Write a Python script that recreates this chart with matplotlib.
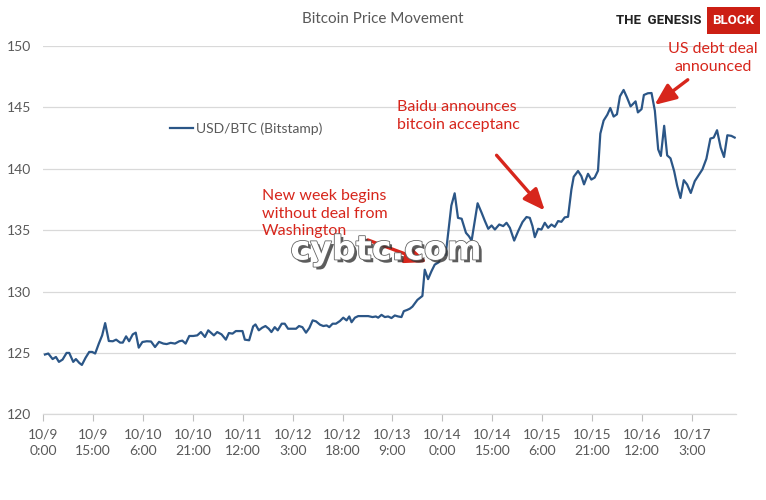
import matplotlib
matplotlib.use("Agg")
import matplotlib.pyplot as plt
import matplotlib.patheffects as pe
from matplotlib.patches import Rectangle

plt.rcParams['font.family'] = ['Lato', 'DejaVu Sans']

# ---- data: hours since 10/9 0:00, USD/BTC price (Bitstamp) ----
hours = [0.5, 1.5, 2.8, 3.8, 4.7, 5.8, 7.0, 7.8, 9.0, 9.8, 10.8, 11.6, 12.7, 13.8, 14.7,
         15.6, 16.7, 17.7, 18.6, 19.7, 20.9, 21.9, 23.1, 23.9, 24.9, 25.8, 26.9, 27.8, 28.7,
         29.8, 31.1, 32.4, 33.6, 34.8, 36.1, 37.1, 38.3, 39.6, 40.9, 41.8, 42.8, 43.9, 45.1,
         46.3, 47.4, 48.6, 49.6, 51.3, 52.3, 53.6, 54.9, 55.8, 56.9, 57.9, 59.1, 59.9, 60.6,
         61.9, 63.1, 63.8, 64.8, 65.8, 66.8, 67.8, 68.6, 69.6, 70.5, 71.7, 72.6, 73.6, 75.0,
         76.0, 76.9, 77.9, 79.0, 80.0, 81.0, 82.0, 83.2, 84.2, 85.2, 86.0, 87.0, 88.0, 89.2,
         90.2, 91.2, 92.0, 92.7, 93.7, 94.7, 96.2, 97.7, 99.0, 100.0, 100.7, 101.7, 102.7,
         103.7, 104.7, 105.7, 106.7, 107.7, 108.4, 109.4, 110.2, 111.0, 112.5, 114.0, 114.7,
         115.7, 116.7, 117.7, 118.9, 119.7, 121.0, 122.7, 123.7, 124.7, 125.8, 127.1, 128.0,
         128.8, 130.6, 131.8, 132.8, 133.8, 134.8, 135.8, 137.1, 138.3, 139.3, 140.3, 141.6,
         142.8, 144.1, 145.3, 146.3, 147.1, 147.8, 148.8, 149.8, 150.8, 151.8, 152.8, 153.8,
         154.8, 155.8, 156.8, 157.8, 158.8, 159.5, 160.8, 161.8, 162.6, 163.8, 164.8, 165.8,
         166.8, 167.5, 168.5, 169.6, 170.5, 171.5, 172.5, 173.4, 174.5, 175.5, 176.6, 177.3,
         178.1, 178.8, 179.9, 180.6, 181.8, 182.9, 183.9, 184.9, 185.7, 186.7, 187.6, 188.6,
         189.7, 190.6, 191.6, 192.6, 193.6, 194.7, 195.9, 197.2, 198.2, 199.4, 200.6, 201.6,
         202.6, 203.7, 204.7, 205.7, 206.9, 207.9]
prices = [124.87, 124.95, 124.5, 124.67, 124.27, 124.46, 125.0, 125.0, 124.27, 124.5, 124.19,
          124.02, 124.6, 125.08, 125.08, 124.95, 125.76, 126.43, 127.43, 125.97, 125.95, 126.08,
          125.84, 125.84, 126.35, 125.95, 126.51, 126.65, 125.43, 125.89, 125.95, 125.93, 125.48,
          125.9, 125.76, 125.72, 125.82, 125.76, 125.95, 126.0, 125.76, 126.38, 126.38, 126.43,
          126.7, 126.3, 126.84, 126.43, 126.7, 126.51, 126.08, 126.62, 126.57, 126.78, 126.78,
          126.78, 126.08, 126.03, 127.16, 127.32, 126.84, 127.05, 127.19, 126.97, 126.7, 127.1,
          126.84, 127.38, 127.38, 126.97, 126.97, 126.97, 127.19, 127.1, 126.65, 127.03, 127.65,
          127.57, 127.3, 127.19, 127.24, 127.1, 127.38, 127.38, 127.6, 127.87, 127.65, 127.97,
          127.5, 127.87, 128.0, 128.0, 128.0, 127.92, 127.97, 127.87, 128.1, 127.92, 127.97,
          127.84, 128.05, 127.97, 127.92, 128.4, 128.5, 128.6, 128.77, 129.32, 129.64, 131.78,
          131.01, 131.64, 132.19, 132.38, 132.87, 133.0, 137.0, 138.0, 136.0, 135.93, 134.78,
          134.5, 134.15, 137.19, 136.42, 135.74, 135.11, 135.38, 135.05, 135.46, 135.33, 135.6,
          135.19, 134.15, 134.92, 135.66, 136.07, 136.0, 135.33, 134.43, 135.11, 135.05, 135.6,
          135.19, 135.46, 135.27, 135.74, 135.68, 136.04, 136.09, 138.3, 139.35, 139.82, 139.4,
          138.73, 139.59, 139.12, 139.28, 139.84, 142.86, 143.93, 144.4, 144.95, 144.25, 144.44,
          145.9, 146.42, 145.82, 145.08, 145.27, 145.49, 144.59, 144.86, 146.01, 146.15, 146.17,
          144.73, 141.58, 141.04, 143.5, 141.09, 140.85, 139.81, 138.63, 137.62, 139.07, 138.72,
          138.03, 138.99, 139.54, 139.95, 140.82, 142.46, 142.54, 143.14, 141.72, 140.96, 142.73,
          142.68, 142.54]

tick_hours = [0, 15, 30, 45, 60, 75, 90, 105, 120, 135, 150, 165, 180, 195]
tick_labels = ["10/9\n0:00", "10/9\n15:00", "10/10\n6:00", "10/10\n21:00", "10/11\n12:00",
               "10/12\n3:00", "10/12\n18:00", "10/13\n9:00", "10/14\n0:00", "10/14\n15:00",
               "10/15\n6:00", "10/15\n21:00", "10/16\n12:00", "10/17\n3:00"]
y_ticks = [120, 125, 130, 135, 140, 145, 150]

series_name = "USD/BTC (Bitstamp)"
title = "Bitcoin Price Movement"

# annotations: text, arrow tail and tip (data)
ann_texts = ["New week begins\nwithout deal from\nWashington",
             "Baidu announces\nbitcoin acceptanc",
             "US debt deal\nannounced"]
ann_arrow_tail = [(97.6, 134.2), (136.3, 141.1), (193.8, 147.25)]
ann_arrow_tip = [(115.4, 132.4), (150.8, 136.6), (183.8, 145.2)]

LINE = '#2b5687'
GRAY = '#595959'
RED = '#d7261c'

W, H = 766, 500
fig = plt.figure(figsize=(W / 100, H / 100), dpi=100)
ax = fig.add_axes([43.3 / W, 1 - 414.3 / H, (736 - 43.3) / W, (414.3 - 46) / H])

ax.plot(hours, prices, color=LINE, lw=1.6, solid_joinstyle='round', zorder=3)
ax.set_xlim(0, 208.3)
ax.set_ylim(120, 150)
ax.set_yticks(y_ticks)
ax.set_xticks(tick_hours)
ax.set_xticklabels(tick_labels, linespacing=1.5)
ax.tick_params(axis='x', length=5, color='#bfbfbf', labelcolor=GRAY, labelsize=10, pad=5)
ax.tick_params(axis='y', length=0, labelcolor=GRAY, labelsize=10, pad=9)
ax.grid(axis='y', color='#d9d9d9', lw=0.9)
ax.set_axisbelow(True)
for s in ['left', 'right', 'top']:
    ax.spines[s].set_visible(False)
ax.spines['bottom'].set_color('#d9d9d9')
ax.spines['bottom'].set_linewidth(0.9)

# title
fig.text(383 / W, 1 - 19 / H, title, ha='center', va='center', fontsize=11, color=GRAY)

# legend
leg = ax.legend([series_name], loc='upper left',
                bbox_to_anchor=((164 - 43.3) / (736 - 43.3), (414.3 - 117) / (414.3 - 46)),
                frameon=False, fontsize=10, handlelength=1.7, handletextpad=0.2, borderaxespad=0)
for t in leg.get_texts():
    t.set_color(GRAY)

# annotation texts
fig.text(262 / W, 1 - 189 / H, ann_texts[0], ha='left', va='top', fontsize=11.5, color=RED, linespacing=1.32)
fig.text(397 / W, 1 - 100 / H, ann_texts[1], ha='left', va='top', fontsize=11.5, color=RED, linespacing=1.32)
fig.text(713 / W, 1 - 42 / H, ann_texts[2], ha='center', va='top', fontsize=11.5, color=RED, linespacing=1.32)

for tail, tip in zip(ann_arrow_tail, ann_arrow_tip):
    ax.annotate("", xy=tip, xytext=tail, xycoords='data', textcoords='data',
                arrowprops=dict(arrowstyle='-|>,head_length=1.3,head_width=0.55', color=RED, lw=2.4,
                                shrinkA=0, shrinkB=0), zorder=4)

# watermark
fig.text(386 / W, 1 - 250 / H, "cybtc.com", ha='center', va='center', fontsize=24, fontweight='bold',
         color='white', family=['DejaVu Sans'],
         path_effects=[pe.withSimplePatchShadow(offset=(2, -2), shadow_rgbFace='#333333', alpha=0.8),
                       pe.withStroke(linewidth=1.2, foreground='#666666')], zorder=10)

# logo
fig.text(701 / W, 1 - 21 / H, "THE  GENESIS", ha='right', va='center', fontsize=9.5, fontweight='bold',
         color='#222222', family=['Roboto', 'DejaVu Sans'])
fig.patches.append(Rectangle((707 / W, 1 - 34 / H), 53 / W, 27 / H, transform=fig.transFigure,
                             facecolor='#cc1f14', edgecolor='none'))
fig.text(733.5 / W, 1 - 21 / H, "BLOCK", ha='center', va='center', fontsize=9.5, fontweight='bold',
         color='white', family=['Roboto', 'DejaVu Sans'])

fig.savefig("out.png", dpi=100)
